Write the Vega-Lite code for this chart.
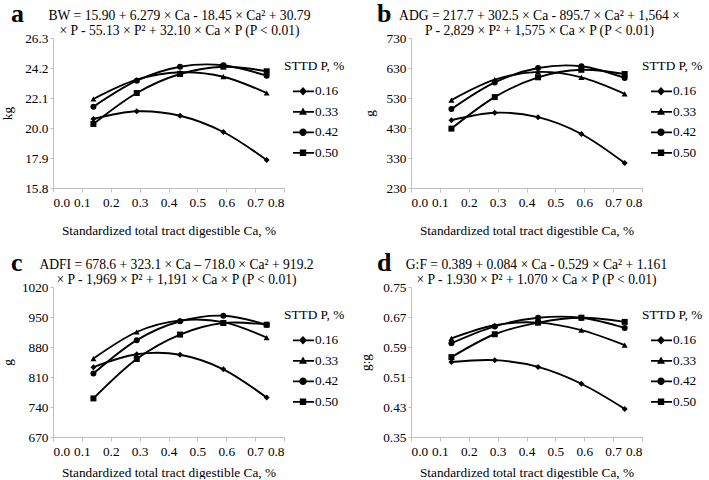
{
  "$schema": "https://vega.github.io/schema/vega-lite/v6.json",
  "padding": {"left": 0, "top": 1, "right": 5, "bottom": 0},
  "background": "white",
  "datasets": {
    "a": [
      {"Ca": 0.14, "P": "0.16", "v": 20.63}, {"Ca": 0.29, "P": "0.16", "v": 21.17}, {"Ca": 0.44, "P": "0.16", "v": 20.86}, {"Ca": 0.59, "P": "0.16", "v": 19.72}, {"Ca": 0.74, "P": "0.16", "v": 17.76},
      {"Ca": 0.14, "P": "0.33", "v": 22.03}, {"Ca": 0.29, "P": "0.33", "v": 23.38}, {"Ca": 0.44, "P": "0.33", "v": 23.90}, {"Ca": 0.59, "P": "0.33", "v": 23.59}, {"Ca": 0.74, "P": "0.33", "v": 22.45},
      {"Ca": 0.14, "P": "0.42", "v": 21.49}, {"Ca": 0.29, "P": "0.42", "v": 23.31}, {"Ca": 0.44, "P": "0.42", "v": 24.29}, {"Ca": 0.59, "P": "0.42", "v": 24.39}, {"Ca": 0.74, "P": "0.42", "v": 23.66},
      {"Ca": 0.14, "P": "0.50", "v": 20.28}, {"Ca": 0.29, "P": "0.50", "v": 22.45}, {"Ca": 0.44, "P": "0.50", "v": 23.78}, {"Ca": 0.59, "P": "0.50", "v": 24.29}, {"Ca": 0.74, "P": "0.50", "v": 23.97}
    ],
    "b": [
      {"Ca": 0.14, "P": "0.16", "v": 456}, {"Ca": 0.29, "P": "0.16", "v": 481}, {"Ca": 0.44, "P": "0.16", "v": 466}, {"Ca": 0.59, "P": "0.16", "v": 410}, {"Ca": 0.74, "P": "0.16", "v": 313},
      {"Ca": 0.14, "P": "0.33", "v": 523}, {"Ca": 0.29, "P": "0.33", "v": 591}, {"Ca": 0.44, "P": "0.33", "v": 617}, {"Ca": 0.59, "P": "0.33", "v": 599}, {"Ca": 0.74, "P": "0.33", "v": 544},
      {"Ca": 0.14, "P": "0.42", "v": 493}, {"Ca": 0.29, "P": "0.42", "v": 582}, {"Ca": 0.44, "P": "0.42", "v": 630}, {"Ca": 0.59, "P": "0.42", "v": 636}, {"Ca": 0.74, "P": "0.42", "v": 597},
      {"Ca": 0.14, "P": "0.50", "v": 428}, {"Ca": 0.29, "P": "0.50", "v": 533}, {"Ca": 0.44, "P": "0.50", "v": 599}, {"Ca": 0.59, "P": "0.50", "v": 624}, {"Ca": 0.74, "P": "0.50", "v": 610}
    ],
    "c": [
      {"Ca": 0.14, "P": "0.16", "v": 833}, {"Ca": 0.29, "P": "0.16", "v": 863}, {"Ca": 0.44, "P": "0.16", "v": 862}, {"Ca": 0.59, "P": "0.16", "v": 828}, {"Ca": 0.74, "P": "0.16", "v": 762},
      {"Ca": 0.14, "P": "0.33", "v": 853}, {"Ca": 0.29, "P": "0.33", "v": 915}, {"Ca": 0.44, "P": "0.33", "v": 942}, {"Ca": 0.59, "P": "0.33", "v": 938}, {"Ca": 0.74, "P": "0.33", "v": 902},
      {"Ca": 0.14, "P": "0.42", "v": 818}, {"Ca": 0.29, "P": "0.42", "v": 896}, {"Ca": 0.44, "P": "0.42", "v": 940}, {"Ca": 0.59, "P": "0.42", "v": 953}, {"Ca": 0.74, "P": "0.42", "v": 932},
      {"Ca": 0.14, "P": "0.50", "v": 760}, {"Ca": 0.29, "P": "0.50", "v": 852}, {"Ca": 0.44, "P": "0.50", "v": 909}, {"Ca": 0.59, "P": "0.50", "v": 936}, {"Ca": 0.74, "P": "0.50", "v": 932}
    ],
    "d": [
      {"Ca": 0.14, "P": "0.16", "v": 0.550}, {"Ca": 0.29, "P": "0.16", "v": 0.555}, {"Ca": 0.44, "P": "0.16", "v": 0.537}, {"Ca": 0.59, "P": "0.16", "v": 0.492}, {"Ca": 0.74, "P": "0.16", "v": 0.425},
      {"Ca": 0.14, "P": "0.33", "v": 0.613}, {"Ca": 0.29, "P": "0.33", "v": 0.648}, {"Ca": 0.44, "P": "0.33", "v": 0.655}, {"Ca": 0.59, "P": "0.33", "v": 0.635}, {"Ca": 0.74, "P": "0.33", "v": 0.595},
      {"Ca": 0.14, "P": "0.42", "v": 0.600}, {"Ca": 0.29, "P": "0.42", "v": 0.645}, {"Ca": 0.44, "P": "0.42", "v": 0.668}, {"Ca": 0.59, "P": "0.42", "v": 0.668}, {"Ca": 0.74, "P": "0.42", "v": 0.641},
      {"Ca": 0.14, "P": "0.50", "v": 0.563}, {"Ca": 0.29, "P": "0.50", "v": 0.624}, {"Ca": 0.44, "P": "0.50", "v": 0.655}, {"Ca": 0.59, "P": "0.50", "v": 0.668}, {"Ca": 0.74, "P": "0.50", "v": 0.657}
    ]
  },
  "config": {
    "font": "'Liberation Serif', 'Times New Roman', 'DejaVu Serif', serif",
    "view": {"stroke": null},
    "axis": {"grid": false, "labelOverlap": false, "domainColor": "#bfbfbf", "tickColor": "#bfbfbf", "tickSize": 4, "labelFont": "'Liberation Serif', 'Times New Roman', 'DejaVu Serif', serif", "labelFontSize": 13.3, "labelColor": "#000000", "titleFont": "'Liberation Serif', 'Times New Roman', 'DejaVu Serif', serif", "titleFontSize": 13.3, "titleFontWeight": "normal", "titleColor": "#000000"},
    "legend": {"orient": "right", "padding": 21, "offset": -21, "titleFont": "'Liberation Serif', 'Times New Roman', 'DejaVu Serif', serif", "titleFontSize": 13.3, "titleFontWeight": "normal", "titleColor": "#000000", "titlePadding": 9, "labelFont": "'Liberation Serif', 'Times New Roman', 'DejaVu Serif', serif", "labelFontSize": 13.3, "labelColor": "#000000", "labelOffset": 11, "rowPadding": 3.5, "symbolSize": 400, "symbolStrokeWidth": 0, "symbolFillColor": "#000000", "symbolStrokeColor": "#000000", "symbolOpacity": 1},
    "title": {"font": "'Liberation Serif', 'Times New Roman', 'DejaVu Serif', serif", "fontSize": 26, "fontWeight": "bold", "color": "#000000", "anchor": "start", "frame": "group", "baseline": "alphabetic", "offset": -19}
  },
  "columns": 2,
  "spacing": {"row": 99, "column": 127},
  "bounds": "flush",
  "concat": [
    {
      "width": 231, "height": 150,
      "data": {"name": "a"},
      "title": {"text": "a", "dx": -42},
      "layer": [
        {"mark": {"type": "line", "interpolate": "cardinal", "color": "#000000", "strokeWidth": 1.9},
         "encoding": {
           "x": {"field": "Ca", "type": "quantitative", "scale": {"domain": [0, 0.8], "nice": false}, "axis": {"values": [0, 0.1, 0.2, 0.3, 0.4, 0.5, 0.6, 0.7, 0.8], "tickCount": 20, "format": ".1f", "labelOverlap": false, "labelPadding": 3, "titlePadding": 15, "title": "Standardized total tract digestible Ca, %"}},
           "y": {"field": "v", "type": "quantitative", "scale": {"domain": [15.8, 26.3], "nice": false, "zero": false}, "axis": {"values": [15.8, 17.9, 20.0, 22.1, 24.2, 26.3], "tickCount": 20, "format": ".1f", "labelOverlap": false, "tickSize": 3, "labelPadding": 2, "titlePadding": 10, "title": "kg"}},
           "detail": {"field": "P", "type": "nominal"}}},
        {"mark": {"type": "point", "filled": true, "size": 36, "color": "#000000", "opacity": 1},
         "encoding": {
           "x": {"field": "Ca", "type": "quantitative", "axis": null},
           "y": {"field": "v", "type": "quantitative"},
           "shape": {"field": "P", "type": "nominal", "scale": {"domain": ["0.16", "0.33", "0.42", "0.50"], "range": ["diamond", "triangle-up", "circle", "square"]}, "legend": null}}},
        {"mark": {"type": "point", "filled": true, "color": "#000000", "opacity": 0},
         "encoding": {
           "x": {"field": "Ca", "type": "quantitative", "axis": {"orient": "top", "labels": false, "ticks": false, "domain": false, "titleFontSize": 13.6, "titleLineHeight": 15, "titlePadding": 1, "titleX": 126, "title": ["BW = 15.90 + 6.279 × Ca - 18.45 × Ca² + 30.79", "× P - 55.13 × P² + 32.10 × Ca × P (P < 0.01)"]}},
           "y": {"field": "v", "type": "quantitative"},
           "shape": {"field": "P", "type": "nominal", "scale": {"domain": ["0.16", "0.33", "0.42", "0.50"], "range": ["M-0.1,-0.09L2,-0.09L2,0.09L-0.1,0.09ZM0.9,-0.42L1.3,0L0.9,0.42L0.5,0Z", "M-0.1,-0.09L2,-0.09L2,0.09L-0.1,0.09ZM0.9,-0.42L1.3,0.3L0.5,0.3Z", "M-0.1,-0.09L2,-0.09L2,0.09L-0.1,0.09ZM0.53,0A0.37,0.37,0,1,1,1.27,0A0.37,0.37,0,1,1,0.53,0Z", "M-0.1,-0.09L2,-0.09L2,0.09L-0.1,0.09ZM0.58,-0.33L1.22,-0.33L1.22,0.33L0.58,0.33Z"]},
             "legend": {"title": "STTD P, %", "encode": {"symbols": {"update": {"opacity": {"value": 1}, "fill": {"value": "#000000"}, "strokeWidth": {"value": 0}}}}}}}}
      ],
      "resolve": {"scale": {"shape": "independent"}, "axis": {"x": "independent"}}
    },
    {
      "width": 231, "height": 150,
      "data": {"name": "b"},
      "title": {"text": "b", "dx": -34},
      "layer": [
        {"mark": {"type": "line", "interpolate": "cardinal", "color": "#000000", "strokeWidth": 1.9},
         "encoding": {
           "x": {"field": "Ca", "type": "quantitative", "scale": {"domain": [0, 0.8], "nice": false}, "axis": {"values": [0, 0.1, 0.2, 0.3, 0.4, 0.5, 0.6, 0.7, 0.8], "tickCount": 20, "format": ".1f", "labelOverlap": false, "labelPadding": 3, "titlePadding": 15, "title": "Standardized total tract digestible Ca, %"}},
           "y": {"field": "v", "type": "quantitative", "scale": {"domain": [230, 730], "nice": false, "zero": false}, "axis": {"values": [230, 330, 430, 530, 630, 730], "tickCount": 20, "format": "d", "labelOverlap": false, "tickSize": 3, "labelPadding": 2, "titlePadding": 10, "title": "g"}},
           "detail": {"field": "P", "type": "nominal"}}},
        {"mark": {"type": "point", "filled": true, "size": 36, "color": "#000000", "opacity": 1},
         "encoding": {
           "x": {"field": "Ca", "type": "quantitative", "axis": null},
           "y": {"field": "v", "type": "quantitative"},
           "shape": {"field": "P", "type": "nominal", "scale": {"domain": ["0.16", "0.33", "0.42", "0.50"], "range": ["diamond", "triangle-up", "circle", "square"]}, "legend": null}}},
        {"mark": {"type": "point", "filled": true, "color": "#000000", "opacity": 0},
         "encoding": {
           "x": {"field": "Ca", "type": "quantitative", "axis": {"orient": "top", "labels": false, "ticks": false, "domain": false, "titleFontSize": 13.6, "titleLineHeight": 15, "titlePadding": 1, "titleX": 128, "title": ["ADG = 217.7 + 302.5 × Ca - 895.7 × Ca² + 1,564 ×", "P - 2,829 × P² + 1,575 × Ca × P (P < 0.01)"]}},
           "y": {"field": "v", "type": "quantitative"},
           "shape": {"field": "P", "type": "nominal", "scale": {"domain": ["0.16", "0.33", "0.42", "0.50"], "range": ["M-0.1,-0.09L2,-0.09L2,0.09L-0.1,0.09ZM0.9,-0.42L1.3,0L0.9,0.42L0.5,0Z", "M-0.1,-0.09L2,-0.09L2,0.09L-0.1,0.09ZM0.9,-0.42L1.3,0.3L0.5,0.3Z", "M-0.1,-0.09L2,-0.09L2,0.09L-0.1,0.09ZM0.53,0A0.37,0.37,0,1,1,1.27,0A0.37,0.37,0,1,1,0.53,0Z", "M-0.1,-0.09L2,-0.09L2,0.09L-0.1,0.09ZM0.58,-0.33L1.22,-0.33L1.22,0.33L0.58,0.33Z"]},
             "legend": {"title": "STTD P, %", "encode": {"symbols": {"update": {"opacity": {"value": 1}, "fill": {"value": "#000000"}, "strokeWidth": {"value": 0}}}}}}}}
      ],
      "resolve": {"scale": {"shape": "independent"}, "axis": {"x": "independent"}}
    },
    {
      "width": 231, "height": 150,
      "data": {"name": "c"},
      "title": {"text": "c", "dx": -42},
      "layer": [
        {"mark": {"type": "line", "interpolate": "cardinal", "color": "#000000", "strokeWidth": 1.9},
         "encoding": {
           "x": {"field": "Ca", "type": "quantitative", "scale": {"domain": [0, 0.8], "nice": false}, "axis": {"values": [0, 0.1, 0.2, 0.3, 0.4, 0.5, 0.6, 0.7, 0.8], "tickCount": 20, "format": ".1f", "labelOverlap": false, "labelPadding": 3, "titlePadding": 8, "title": "Standardized total tract digestible Ca, %"}},
           "y": {"field": "v", "type": "quantitative", "scale": {"domain": [670, 1020], "nice": false, "zero": false}, "axis": {"values": [670, 740, 810, 880, 950, 1020], "tickCount": 20, "format": "d", "labelOverlap": false, "tickSize": 3, "labelPadding": 2, "titlePadding": 7, "title": "g"}},
           "detail": {"field": "P", "type": "nominal"}}},
        {"mark": {"type": "point", "filled": true, "size": 36, "color": "#000000", "opacity": 1},
         "encoding": {
           "x": {"field": "Ca", "type": "quantitative", "axis": null},
           "y": {"field": "v", "type": "quantitative"},
           "shape": {"field": "P", "type": "nominal", "scale": {"domain": ["0.16", "0.33", "0.42", "0.50"], "range": ["diamond", "triangle-up", "circle", "square"]}, "legend": null}}},
        {"mark": {"type": "point", "filled": true, "color": "#000000", "opacity": 0},
         "encoding": {
           "x": {"field": "Ca", "type": "quantitative", "axis": {"orient": "top", "labels": false, "ticks": false, "domain": false, "titleFontSize": 13.6, "titleLineHeight": 15, "titlePadding": 1, "titleX": 123, "title": ["ADFI = 678.6 + 323.1 × Ca – 718.0 × Ca² + 919.2", "× P - 1,969 × P² + 1,191 × Ca × P (P < 0.01)"]}},
           "y": {"field": "v", "type": "quantitative"},
           "shape": {"field": "P", "type": "nominal", "scale": {"domain": ["0.16", "0.33", "0.42", "0.50"], "range": ["M-0.1,-0.09L2,-0.09L2,0.09L-0.1,0.09ZM0.9,-0.42L1.3,0L0.9,0.42L0.5,0Z", "M-0.1,-0.09L2,-0.09L2,0.09L-0.1,0.09ZM0.9,-0.42L1.3,0.3L0.5,0.3Z", "M-0.1,-0.09L2,-0.09L2,0.09L-0.1,0.09ZM0.53,0A0.37,0.37,0,1,1,1.27,0A0.37,0.37,0,1,1,0.53,0Z", "M-0.1,-0.09L2,-0.09L2,0.09L-0.1,0.09ZM0.58,-0.33L1.22,-0.33L1.22,0.33L0.58,0.33Z"]},
             "legend": {"title": "STTD P, %", "encode": {"symbols": {"update": {"opacity": {"value": 1}, "fill": {"value": "#000000"}, "strokeWidth": {"value": 0}}}}}}}}
      ],
      "resolve": {"scale": {"shape": "independent"}, "axis": {"x": "independent"}}
    },
    {
      "width": 231, "height": 150,
      "data": {"name": "d"},
      "title": {"text": "d", "dx": -34},
      "layer": [
        {"mark": {"type": "line", "interpolate": "cardinal", "color": "#000000", "strokeWidth": 1.9},
         "encoding": {
           "x": {"field": "Ca", "type": "quantitative", "scale": {"domain": [0, 0.8], "nice": false}, "axis": {"values": [0, 0.1, 0.2, 0.3, 0.4, 0.5, 0.6, 0.7, 0.8], "tickCount": 20, "format": ".1f", "labelOverlap": false, "labelPadding": 3, "titlePadding": 8, "title": "Standardized total tract digestible Ca, %"}},
           "y": {"field": "v", "type": "quantitative", "scale": {"domain": [0.35, 0.75], "nice": false, "zero": false}, "axis": {"values": [0.35, 0.43, 0.51, 0.59, 0.67, 0.75], "tickCount": 20, "format": ".2f", "labelOverlap": false, "tickSize": 3, "labelPadding": 2, "titlePadding": 10, "title": "g:g"}},
           "detail": {"field": "P", "type": "nominal"}}},
        {"mark": {"type": "point", "filled": true, "size": 36, "color": "#000000", "opacity": 1},
         "encoding": {
           "x": {"field": "Ca", "type": "quantitative", "axis": null},
           "y": {"field": "v", "type": "quantitative"},
           "shape": {"field": "P", "type": "nominal", "scale": {"domain": ["0.16", "0.33", "0.42", "0.50"], "range": ["diamond", "triangle-up", "circle", "square"]}, "legend": null}}},
        {"mark": {"type": "point", "filled": true, "color": "#000000", "opacity": 0},
         "encoding": {
           "x": {"field": "Ca", "type": "quantitative", "axis": {"orient": "top", "labels": false, "ticks": false, "domain": false, "titleFontSize": 13.6, "titleLineHeight": 15, "titlePadding": 1, "titleX": 125, "title": ["G:F = 0.389 + 0.084 × Ca - 0.529 × Ca² + 1.161", "× P - 1.930 × P² + 1.070 × Ca × P (P < 0.01)"]}},
           "y": {"field": "v", "type": "quantitative"},
           "shape": {"field": "P", "type": "nominal", "scale": {"domain": ["0.16", "0.33", "0.42", "0.50"], "range": ["M-0.1,-0.09L2,-0.09L2,0.09L-0.1,0.09ZM0.9,-0.42L1.3,0L0.9,0.42L0.5,0Z", "M-0.1,-0.09L2,-0.09L2,0.09L-0.1,0.09ZM0.9,-0.42L1.3,0.3L0.5,0.3Z", "M-0.1,-0.09L2,-0.09L2,0.09L-0.1,0.09ZM0.53,0A0.37,0.37,0,1,1,1.27,0A0.37,0.37,0,1,1,0.53,0Z", "M-0.1,-0.09L2,-0.09L2,0.09L-0.1,0.09ZM0.58,-0.33L1.22,-0.33L1.22,0.33L0.58,0.33Z"]},
             "legend": {"title": "STTD P, %", "encode": {"symbols": {"update": {"opacity": {"value": 1}, "fill": {"value": "#000000"}, "strokeWidth": {"value": 0}}}}}}}}
      ],
      "resolve": {"scale": {"shape": "independent"}, "axis": {"x": "independent"}}
    }
  ]
}
